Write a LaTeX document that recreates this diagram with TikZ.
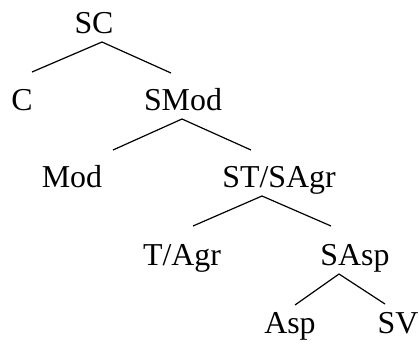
\documentclass[tikz,border=0pt]{standalone}
\usepackage{fontspec}
\setmainfont{Liberation Serif}
\usepackage{tikz}

\begin{document}
\begin{tikzpicture}[
  x=1bp, y=-1bp,
  every node/.style={font=\fontsize{32}{38}\selectfont},
  cat/.style={anchor=base, inner sep=0pt},
  branch/.style={line width=1.2bp, black},
]
  \useasboundingbox (0,0) rectangle (419,349);

  % Categories, placed on their baselines
  \node[cat] (sc)   at (94, 33)   {SC};
  \node[cat] (c)    at (22, 110)  {C};
  \node[cat] (smod) at (183, 110) {SMod};
  \node[cat] (mod)  at (72, 187)  {Mod};
  \node[cat] (st)   at (279, 187) {ST/SAgr};
  \node[cat] (t)    at (182, 265) {T/Agr};
  \node[cat] (sasp) at (355, 265) {SAsp};
  \node[cat] (asp)  at (290, 333) {Asp};
  \node[cat] (sv)   at (398, 333) {SV};

  % Branches
  \draw[branch] ([shift={(10,-38)}]c.base) -- ([shift={(8,9)}]sc.base)
    -- ([shift={(-12,-37)}]smod.base);
  \draw[branch] ([shift={(41,-37)}]mod.base) -- ([shift={(-1,9)}]smod.base)
    -- ([shift={(-28,-37)}]st.base);
  \draw[branch] ([shift={(11,-39)}]t.base) -- ([shift={(-17,9)}]st.base)
    -- ([shift={(-24,-39)}]sasp.base);
  \draw[branch] ([shift={(5,-28)}]asp.base) -- ([shift={(-16,9)}]sasp.base)
    -- ([shift={(-13,-29)}]sv.base);
\end{tikzpicture}
\end{document}
